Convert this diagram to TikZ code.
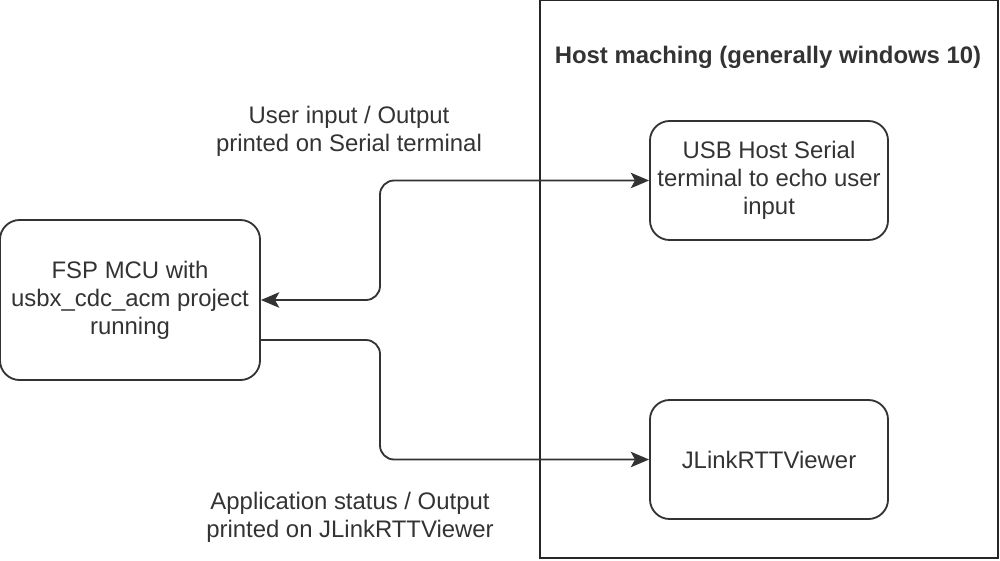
\documentclass[tikz,border=0pt]{standalone}
\usepackage{fontspec}
\setmainfont{Liberation Sans}
\usetikzlibrary{arrows.meta}

\tikzset{
    box/.style={draw=black!80,line width=1.3pt,rounded corners=14pt,align=center,
        inner sep=0pt,text=black!80},
    link/.style={draw=black!80,line width=1.3pt,rounded corners=10pt},
    head/.tip={Stealth[length=13pt,width=11pt,inset=3pt]},
    caption/.style={align=center,text=black!80,inner sep=0pt},
}

\begin{document}
\begin{tikzpicture}[x=0.025cm,y=-0.025cm,font=\fontsize{17}{20}\selectfont]
\useasboundingbox (0,0) rectangle (1000,560);

% Draw the host machine frame and its title
\node[draw=black!85,line width=1.3pt,minimum width=11.45cm,minimum height=13.95cm,inner sep=0pt]
    (host) at (769,279) {};
\node[caption,font=\fontsize{17}{20}\selectfont\bfseries] (title) at (768,57)
    {Host maching (generally windows 10)};

% Draw the three boxes
\node[box,minimum width=6.5cm,minimum height=4cm] (mcu) at (130,300)
    {FSP MCU with\\usbx\_cdc\_acm project\\running};
\node[box,minimum width=5.95cm,minimum height=2.975cm] (usb) at (769,180.5)
    {USB Host Serial\\terminal to echo user\\input};
\node[box,minimum width=5.95cm,minimum height=2.975cm] (jlink) at (769,459.5)
    {JLinkRTTViewer};

% Draw the connectors
\coordinate (bend) at (380,0);
\coordinate (mcuout) at ([yshift=-1cm]mcu.east);
\draw[link,head-head] (mcu.east) -- (mcu.east -| bend) -- (usb.west -| bend) -- (usb.west);
\draw[link,-head] (mcuout) -- (mcuout -| bend) -- (jlink.west -| bend) -- (jlink.west);

% Draw the connector labels
\node[caption] (serial) at (349,131) {User input / Output\\printed on Serial terminal};
\node[caption] (rtt) at (350,517) {Application status / Output\\printed on JLinkRTTViewer};

\end{tikzpicture}
\end{document}
